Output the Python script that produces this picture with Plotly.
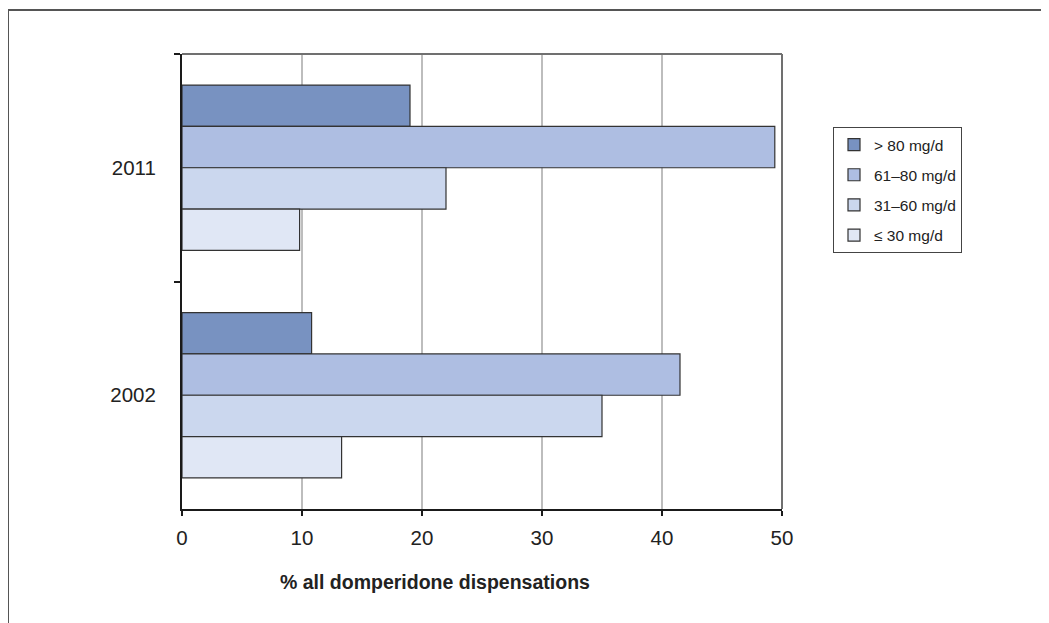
import plotly.graph_objects as go

years = ["2011", "2002"]
series_names = ["> 80 mg/d", "61\u201380 mg/d", "31\u201360 mg/d", "\u2264 30 mg/d"]
vals_gt80 = [19.0, 10.8]
vals_61_80 = [49.4, 41.5]
vals_31_60 = [22.0, 35.0]
vals_le30 = [9.8, 13.3]
colors = ["#7892c1", "#aebee2", "#cbd7ee", "#e0e7f5"]
x_ticks = [0, 10, 20, 30, 40, 50]

FONT = "Liberation Sans, Arial, Helvetica, sans-serif"

# page body adds an 8px offset; compensate
OFF = 8
fig = go.Figure()
for name, vals, col in zip(series_names, [vals_gt80, vals_61_80, vals_31_60, vals_le30], colors):
    fig.add_trace(go.Bar(
        y=years, x=vals, name=name, orientation="h",
        marker=dict(color=col, line=dict(color="#333333", width=1.2)),
        legendgroup=name,
    ))

PL, PR, PT, PB = 182 - OFF, 782 - OFF, 54 - OFF, 509 - OFF
W, H = 1049, 623
PW, PH = PR - PL, PB - PT


def px_x(x):
    return (x - OFF - PL) / PW


def px_y(y):
    return (PB - (y - OFF)) / PH


fig.update_layout(
    width=W, height=H,
    margin=dict(l=PL, r=W - PR, t=PT, b=H - PB),
    paper_bgcolor="white", plot_bgcolor="white",
    barmode="group", bargap=0.273, bargroupgap=0,
    font=dict(family=FONT, color="#222222"),
    showlegend=True,
    legend=dict(
        x=px_x(833), y=px_y(127), xanchor="left", yanchor="top",
        bordercolor="#444444", borderwidth=1, bgcolor="white",
        font=dict(size=15.5, family=FONT, color="#222222"),
        traceorder="grouped", tracegroupgap=7,
    ),
    xaxis=dict(
        range=[0, 50], tickvals=x_ticks, ticktext=[str(t) for t in x_ticks],
        showgrid=True, gridcolor="#bdbdbd", gridwidth=1.5,
        showline=True, linecolor="#1a1a1a", linewidth=2,
        ticks="outside", ticklen=5, tickcolor="#1a1a1a", tickwidth=1.5,
        tickfont=dict(size=20.5, family=FONT, color="#222222"),
        ticklabelstandoff=4,
        zeroline=False, fixedrange=True,
    ),
    yaxis=dict(
        categoryorder="array", categoryarray=years, autorange="reversed",
        showline=True, linecolor="#1a1a1a", linewidth=2,
        ticks="outside", ticklen=6, tickcolor="#1a1a1a", tickwidth=1.5,
        tickson="boundaries", showgrid=False,
        tickfont=dict(size=20.5, family=FONT, color="#222222"),
        ticklabelstandoff=20, zeroline=False, fixedrange=True,
    ),
)

# gray top and right plot borders
fig.add_shape(type="line", xref="paper", yref="paper", x0=0, x1=1, y0=1, y1=1,
              line=dict(color="#707070", width=2))
fig.add_shape(type="line", xref="paper", yref="paper", x0=1, x1=1, y0=0, y1=1,
              line=dict(color="#707070", width=2))
# outer frame
fig.add_shape(type="rect", xref="paper", yref="paper",
              x0=px_x(8), x1=px_x(1100),
              y0=px_y(700), y1=px_y(10),
              line=dict(color="#555555", width=2), layer="below")

fig.add_annotation(text="<b>% all domperidone dispensations</b>", xref="paper", yref="paper",
                   x=px_x(435), y=px_y(582), xanchor="center", yanchor="middle",
                   showarrow=False, font=dict(size=19.5, family=FONT, color="#222222"))

fig.write_html("out.html")
